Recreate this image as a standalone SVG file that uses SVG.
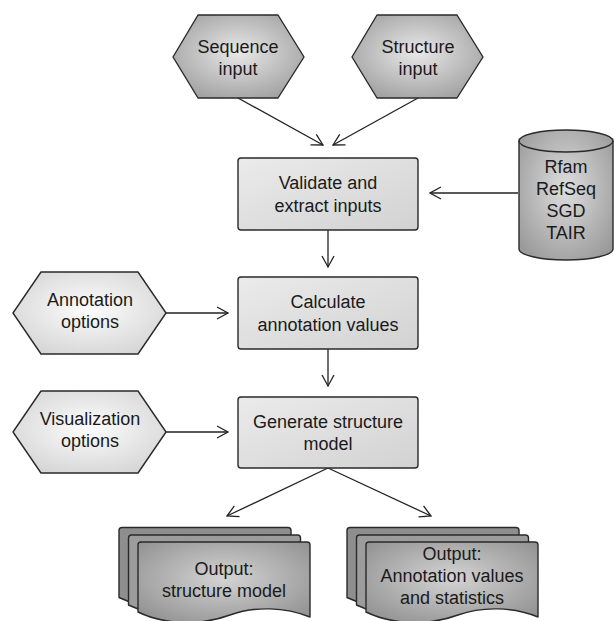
<svg xmlns="http://www.w3.org/2000/svg" width="614" height="621" viewBox="0 0 614 621">
<defs>
<radialGradient id="gIn" cx="50%" cy="45%" r="60%">
<stop offset="0" stop-color="#e8e8e8"/>
<stop offset="1" stop-color="#a2a2a2"/>
</radialGradient>
<radialGradient id="gOpt" cx="50%" cy="45%" r="60%">
<stop offset="0" stop-color="#fdfdfd"/>
<stop offset="1" stop-color="#d6d6d6"/>
</radialGradient>
<linearGradient id="gBox" x1="0" y1="0" x2="1" y2="1">
<stop offset="0" stop-color="#ebebeb"/>
<stop offset="1" stop-color="#d2d2d2"/>
</linearGradient>
<radialGradient id="gCyl" cx="50%" cy="45%" r="65%">
<stop offset="0" stop-color="#dedede"/>
<stop offset="1" stop-color="#9a9a9a"/>
</radialGradient>
<radialGradient id="gDoc" cx="50%" cy="45%" r="65%">
<stop offset="0" stop-color="#d4d4d4"/>
<stop offset="1" stop-color="#939393"/>
</radialGradient>
<marker id="arr" markerUnits="userSpaceOnUse" markerWidth="14" markerHeight="14" viewBox="0 0 14 14" refX="12.5" refY="7" orient="auto">
<path d="M1.5,1 L12.5,7 L1.5,13" fill="none" stroke="#222" stroke-width="1.3"/>
</marker>
<path id="doc" d="M141,542 H307 Q310,542 310,545 V617 C285,607 255,606 230,615 C200,626 165,625 138,612 V545 Q138,542 141,542 Z"/>
</defs>
<style>
.shape{stroke:#2a2a2a;stroke-width:1.4;stroke-linejoin:round}
.t{font-family:"Liberation Sans",Arial,sans-serif;font-size:18px;fill:#1a1a1a;text-anchor:middle}
.c{fill:none;stroke:#222;stroke-width:1.3;marker-end:url(#arr)}
.back{fill:#8e8e8e}
.mid{fill:#9c9c9c}
</style>

<g id="connectors">
<line class="c" x1="238" y1="98" x2="323" y2="145"/>
<line class="c" x1="418" y1="98" x2="333" y2="145"/>
<line class="c" x1="518" y1="193" x2="430" y2="193"/>
<line class="c" x1="328" y1="230" x2="328" y2="267"/>
<line class="c" x1="166" y1="313" x2="228" y2="313"/>
<line class="c" x1="328" y1="349" x2="328" y2="386"/>
<line class="c" x1="166" y1="432" x2="228" y2="432"/>
<line class="c" x1="328" y1="468" x2="227" y2="516"/>
<line class="c" x1="328" y1="468" x2="431" y2="516"/>
</g>

<g id="sequence-input">
<polygon class="shape" fill="url(#gIn)" points="173,57 198,15 278,15 304,57 278,98 198,98"/>
<text class="t" x="238" y="53">Sequence</text>
<text class="t" x="238" y="75">input</text>
</g>

<g id="structure-input">
<polygon class="shape" fill="url(#gIn)" points="352,57 377,15 457,15 483,57 457,98 377,98"/>
<text class="t" x="418" y="53">Structure</text>
<text class="t" x="418" y="75">input</text>
</g>

<g id="validate">
<rect class="shape" fill="url(#gBox)" x="238" y="158" width="180" height="72" rx="3"/>
<text class="t" x="328" y="189">Validate and</text>
<text class="t" x="328" y="211.5">extract inputs</text>
</g>

<g id="databases">
<path class="shape" fill="url(#gCyl)" d="M519,141 A47,11 0 0 1 613,141 V249 A47,11 0 0 1 519,249 Z"/>
<path class="shape" fill="none" d="M519,141 A47,11 0 0 0 613,141"/>
<text class="t" x="566" y="173">Rfam</text>
<text class="t" x="566" y="195">RefSeq</text>
<text class="t" x="566" y="217">SGD</text>
<text class="t" x="566" y="239">TAIR</text>
</g>

<g id="annotation-options">
<polygon class="shape" fill="url(#gOpt)" points="13,313 41,272 138,272 166,313 138,354 41,354"/>
<text class="t" x="90" y="306">Annotation</text>
<text class="t" x="90" y="328">options</text>
</g>

<g id="calculate">
<rect class="shape" fill="url(#gBox)" x="238" y="277" width="180" height="72" rx="3"/>
<text class="t" x="328" y="308">Calculate</text>
<text class="t" x="328" y="330.5">annotation values</text>
</g>

<g id="visualization-options">
<polygon class="shape" fill="url(#gOpt)" points="13,432 41,391 138,391 166,432 138,473 41,473"/>
<text class="t" x="90" y="425">Visualization</text>
<text class="t" x="90" y="447">options</text>
</g>

<g id="generate">
<rect class="shape" fill="url(#gBox)" x="238" y="397" width="180" height="71" rx="3"/>
<text class="t" x="328" y="427.5">Generate structure</text>
<text class="t" x="328" y="450">model</text>
</g>

<g id="output-structure-model">
<use href="#doc" class="shape back" transform="translate(-19,-14.5)"/>
<use href="#doc" class="shape mid" transform="translate(-9.5,-7)"/>
<use href="#doc" class="shape" fill="url(#gDoc)"/>
<text class="t" x="224" y="575">Output:</text>
<text class="t" x="224" y="597">structure model</text>
</g>

<g id="output-annotation-values">
<use href="#doc" class="shape back" transform="translate(209,-14.5)"/>
<use href="#doc" class="shape mid" transform="translate(218.5,-7)"/>
<use href="#doc" class="shape" fill="url(#gDoc)" transform="translate(228,0)"/>
<text class="t" x="452" y="560">Output:</text>
<text class="t" x="452" y="582">Annotation values</text>
<text class="t" x="452" y="604">and statistics</text>
</g>
</svg>
